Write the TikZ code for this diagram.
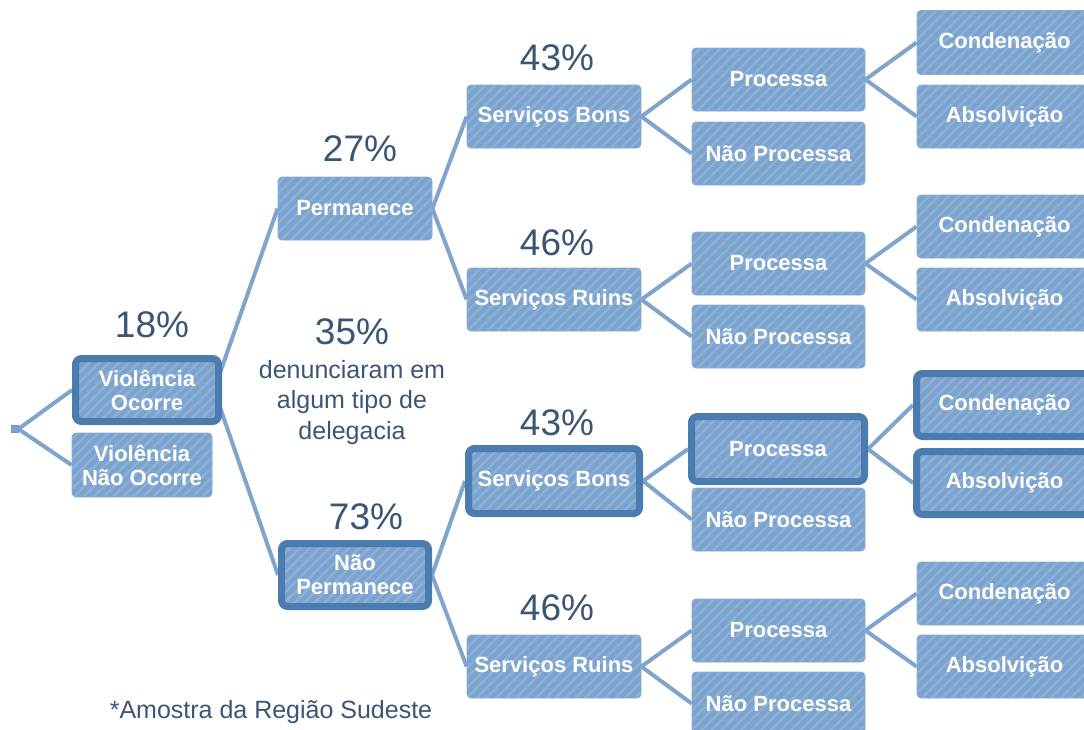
\documentclass[tikz,border=0pt]{standalone}
\usepackage{fontspec}
\setmainfont{Liberation Sans}
\usetikzlibrary{patterns.meta,backgrounds}
\definecolor{boxfill}{HTML}{7BA3CD}
\definecolor{stripe}{HTML}{8CB0D7}
\definecolor{hiborder}{HTML}{4A7CB0}
\definecolor{linkcol}{HTML}{80A4CB}
\definecolor{txtcol}{HTML}{3A5575}
\tikzset{
  box/.style={rectangle, rounded corners=4pt, draw=boxfill!90!white, line width=0.8pt,
    preaction={fill=boxfill},
    pattern={Lines[angle=45,distance=7pt,line width=2.4pt]}, pattern color=stripe,
    text=white, align=center, inner sep=0pt,
    font=\bfseries\fontsize{22}{24}\selectfont},
  hibox/.style={box, draw=hiborder, line width=7pt, rounded corners=6pt},
  link/.style={draw=linkcol, line width=4pt},
  pct/.style={text=txtcol, font=\fontsize{37}{40}\selectfont, inner sep=0pt},
  note/.style={text=txtcol, align=center, font=\fontsize{25}{30.5}\selectfont, inner sep=0pt},
}
\begin{document}
\begin{tikzpicture}[x=1pt,y=-1pt]
\useasboundingbox (0,0) rectangle (1084,729);
\clip (0,0) rectangle (1084,729);
% root
\node[draw=hiborder!80!white, fill=boxfill, line width=0.8pt, minimum size=7pt, inner sep=0pt] (root) at (14.5,429) {};
% level 1
\node[hibox, minimum width=143pt, minimum height=63pt] (vo) at (147,390) {Violência\\Ocorre};
\node[box, minimum width=140pt, minimum height=64pt] (vno) at (142,465) {Violência\\Não Ocorre};
% level 2
\node[box, minimum width=154pt, minimum height=63pt] (perm) at (355,208.5) {Permanece};
\node[hibox, minimum width=147pt, minimum height=63pt] (nperm) at (355,575) {Não\\Permanece};
% level 3
\node[box, minimum width=174pt, minimum height=63pt] (sb1) at (554,116.5) {Serviços Bons};
\node[box, minimum width=174pt, minimum height=63pt] (sr1) at (554,299.5) {Serviços Ruins};
\node[hibox, minimum width=171pt, minimum height=65pt] (sb2) at (554,481) {Serviços Bons};
\node[box, minimum width=174pt, minimum height=63pt] (sr2) at (554,666.5) {Serviços Ruins};
% level 4
\node[box, minimum width=173pt, minimum height=63pt] (p1) at (778.5,79.5) {Processa};
\node[box, minimum width=173pt, minimum height=63pt] (np1) at (778.5,153.5) {Não Processa};
\node[box, minimum width=173pt, minimum height=63pt] (p2) at (778.5,263.5) {Processa};
\node[box, minimum width=173pt, minimum height=63pt] (np2) at (778.5,336.5) {Não Processa};
\node[hibox, minimum width=173pt, minimum height=65pt] (p3) at (778,449) {Processa};
\node[box, minimum width=173pt, minimum height=63pt] (np3) at (778.5,519.5) {Não Processa};
\node[box, minimum width=173pt, minimum height=63pt] (p4) at (778.5,630.5) {Processa};
\node[box, minimum width=173pt, minimum height=63pt] (np4) at (778.5,703.5) {Não Processa};
% level 5
\node[box, minimum width=175pt, minimum height=64pt] (c1) at (1004.5,42.5) {Condenação};
\node[box, minimum width=175pt, minimum height=63pt] (a1) at (1004.5,116.5) {Absolvição};
\node[box, minimum width=175pt, minimum height=63pt] (c2) at (1004.5,226.5) {Condenação};
\node[box, minimum width=175pt, minimum height=63pt] (a2) at (1004.5,299.5) {Absolvição};
\node[hibox, minimum width=176pt, minimum height=63pt] (c3) at (1004.5,405) {Condenação};
\node[hibox, minimum width=176pt, minimum height=63pt] (a3) at (1004.5,483) {Absolvição};
\node[box, minimum width=175pt, minimum height=63pt] (c4) at (1004.5,593.5) {Condenação};
\node[box, minimum width=175pt, minimum height=63pt] (a4) at (1004.5,666.5) {Absolvição};
% connectors
\begin{pgfonlayer}{background}
\draw[link] (root.east) -- (vo.west);
\draw[link] (root.east) -- (vno.west);
\draw[link] ([xshift=-8pt]vo.east) -- (perm.west);
\draw[link] ([xshift=-8pt]vo.east) -- (nperm.west);
\draw[link] (perm.east) -- (sb1.west);
\draw[link] (perm.east) -- (sr1.west);
\draw[link] (nperm.east) -- (sb2.west);
\draw[link] (nperm.east) -- (sr2.west);
\draw[link] (sb1.east) -- (p1.west);
\draw[link] (sb1.east) -- (np1.west);
\draw[link] (sr1.east) -- (p2.west);
\draw[link] (sr1.east) -- (np2.west);
\draw[link] (sb2.east) -- (p3.west);
\draw[link] (sb2.east) -- (np3.west);
\draw[link] (sr2.east) -- (p4.west);
\draw[link] (sr2.east) -- (np4.west);
\draw[link] (p1.east) -- (c1.west);
\draw[link] (p1.east) -- (a1.west);
\draw[link] (p2.east) -- (c2.west);
\draw[link] (p2.east) -- (a2.west);
\draw[link] (p3.east) -- (c3.west);
\draw[link] (p3.east) -- (a3.west);
\draw[link] (p4.east) -- (c4.west);
\draw[link] (p4.east) -- (a4.west);
\end{pgfonlayer}
% labels
\node[pct] (l18) at (152,325) {18\%};
\node[pct] (l27) at (360,149) {27\%};
\node[pct] (l73) at (366,517) {73\%};
\node[pct] (l43a) at (557,58) {43\%};
\node[pct] (l46a) at (557,243) {46\%};
\node[pct] (l43b) at (557,423) {43\%};
\node[pct] (l46b) at (557,608) {46\%};
\node[pct] (l35) at (352,332) {35\%};
\node[note, anchor=north] (desc) at (352,360) {denunciaram em\\algum tipo de\\delegacia};
\node[note] (amostra) at (271,712) {*Amostra da Região Sudeste};
\end{tikzpicture}
\end{document}
